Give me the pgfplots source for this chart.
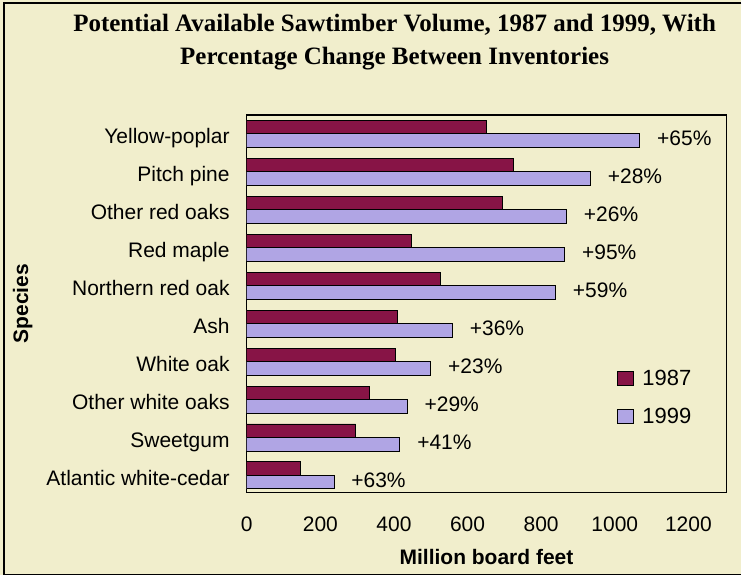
\documentclass[border=0pt]{standalone}
\usepackage{pgfplots}
\pgfplotsset{compat=1.18}
\usepackage{pgfplotstable}
\usepackage{fontspec}
\setmainfont{Liberation Sans}
\newfontfamily\titlefont{Liberation Serif}

\definecolor{cream}{RGB}{241,238,204}
\definecolor{maroon87}{RGB}{135,20,70}
\definecolor{lavender99}{RGB}{176,165,228}

% pos: 0 = bottom row (Atlantic white-cedar), 9 = top row (Yellow-poplar)
\pgfplotstableread{
pos v87  v99  chg
9   651  1068 65
8   726  934  28
7   694  869  26
6   447  864  95
5   527  839  59
4   409  559  36
3   404  500  23
2   334  436  29
1   296  416  41
0   147  237  63
}\sawtimber

\begin{document}
\begin{tikzpicture}
% page background and frame
\fill[cream] (-247pt,-83pt) rectangle (495pt,493pt);
\draw[line width=1.5pt] (495pt,490pt) -- (-243pt,490pt) -- (-243pt,-82pt) -- (495pt,-82pt);

\node[font=\titlefont\bfseries\fontsize{25}{33}\selectfont, align=center,
      anchor=north, inner sep=0pt] at (148pt,479pt)
  {Potential Available Sawtimber Volume, 1987 and 1999, With\\
   Percentage Change Between Inventories};

\begin{axis}[
  at={(0pt,0pt)}, anchor=south west,
  scale only axis,
  width=480pt, height=378pt,
  xbar, bar width=13.5pt,
  xmin=0, xmax=1303,
  ymin=-0.45, ymax=9.5,
  axis background/.style={fill=cream},
  axis line style={line width=1.3pt},
  major tick length=0pt,
  xtick={0,200,...,1200},
  ytick={0,...,9},
  yticklabels={Atlantic white-cedar, Sweetgum, Other white oaks, White oak, Ash,
               Northern red oak, Red maple, Other red oaks, Pitch pine, Yellow-poplar},
  /pgf/number format/assume math mode=true,
  /pgf/number format/1000 sep={},
  tick label style={font=\fontsize{21}{25}\selectfont},
  xticklabel style={inner sep=0pt, anchor=north, yshift=-24pt},
  yticklabel style={inner sep=0pt, anchor=base east, xshift=-17pt, yshift=-10pt},
  xlabel={\bfseries Million board feet},
  xlabel style={at={(axis description cs:0.5,0)}, anchor=base, yshift=-72pt,
                font=\fontsize{21}{25}\selectfont},
  ylabel={\bfseries Species},
  ylabel style={at={(axis description cs:-0.467,0.5)}, anchor=center,
                font=\fontsize{21}{25}\selectfont},
  legend style={at={(axis description cs:0.7708,0.329)}, anchor=north west,
                draw=none, fill=none, inner sep=0pt, row sep=17pt,
                font=\fontsize{22}{26}\selectfont},
  legend cell align=left,
  legend image code/.code={
    \draw[#1] (0pt,-7pt) rectangle (16pt,7pt);
    \path (23pt,0pt);
  },
]
\addplot[fill=maroon87, draw=black, line width=0.9pt, bar shift=6.75pt]
  table[x=v87, y=pos] {\sawtimber};
\addplot[fill=lavender99, draw=black, line width=0.9pt, bar shift=-6.75pt,
  point meta=explicit,
  nodes near coords={+\pgfmathprintnumber{\pgfplotspointmeta}\%},
  nodes near coords style={font=\fontsize{21}{25}\selectfont, text=black,
                           anchor=west, inner sep=0pt, xshift=17pt, yshift=2pt}]
  table[x=v99, y=pos, meta=chg] {\sawtimber};
\legend{1987,1999}
\end{axis}
\end{tikzpicture}
\end{document}
